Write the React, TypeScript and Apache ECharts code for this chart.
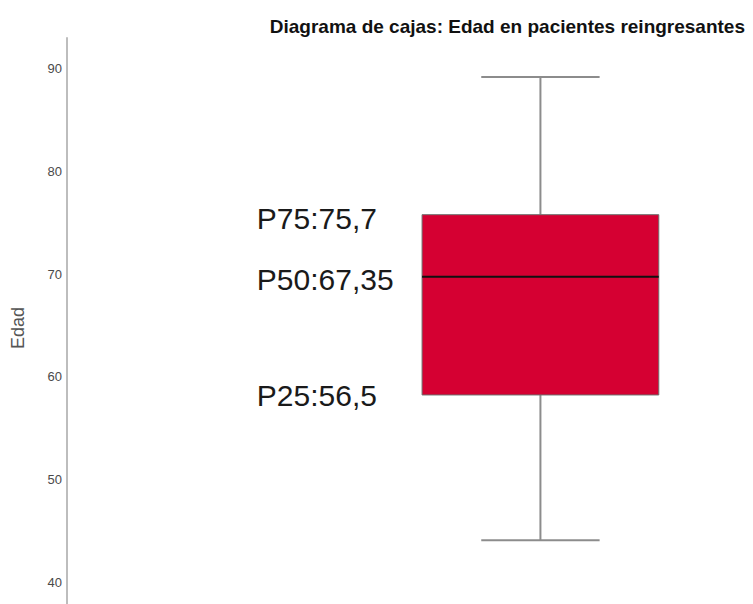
import React, { useEffect, useRef } from "react";
import * as echarts from "echarts";

const categories = ["Edad"];
const whiskerLow = [44.1];
const quartile1 = [58.25];
const medianValues = [69.75];
const quartile3 = [75.8];
const whiskerHigh = [89.2];
const percentileLabels = ["P75:75,7", "P50:67,35", "P25:56,5"];
const yTicks = [40, 50, 60, 70, 80, 90];

const FONT = "'Liberation Sans', Arial, sans-serif";

export default function App() {
  const ref = useRef<HTMLDivElement>(null);
  useEffect(() => {
    if (!ref.current) return;
    const chart = echarts.init(ref.current, null, { renderer: "svg" });
    const data = categories.map((_, i) => [
      0,
      whiskerLow[i],
      quartile1[i],
      medianValues[i],
      quartile3[i],
      whiskerHigh[i],
    ]);
    chart.setOption({
      animation: false,
      backgroundColor: "#ffffff",
      title: {
        text: "Diagrama de cajas: Edad en pacientes reingresantes",
        right: 3,
        top: 12,
        textStyle: { fontFamily: FONT, fontSize: 19, fontWeight: "bold", color: "#111" },
      },
      grid: { left: 67, right: 0, top: 38, bottom: 0 },
      xAxis: { type: "value", min: -1, max: 0.449, show: false },
      yAxis: {
        type: "value",
        min: 37.9,
        max: 93,
        name: categories[0],
        nameLocation: "middle",
        nameGap: 40,
        nameTextStyle: { fontFamily: FONT, fontSize: 18, color: "#555", padding: [0, 14, 0, 0] },
        axisLine: { show: true, onZero: false, lineStyle: { color: "#bdbdbd", width: 2 } },
        axisTick: { show: false },
        splitLine: { show: false },
        axisLabel: {
          customValues: yTicks,
          margin: 5,
          fontFamily: FONT,
          fontSize: 13,
          color: "#4a4a4a",
        },
      },
      series: [
        {
          type: "custom",
          data,
          encode: { x: 0, y: [1, 2, 3, 4, 5] },
          renderItem: (params: any, api: any) => {
            const x = api.value(0);
            const lo = api.coord([x, api.value(1)]);
            const q1 = api.coord([x, api.value(2)]);
            const med = api.coord([x, api.value(3)]);
            const q3 = api.coord([x, api.value(4)]);
            const hi = api.coord([x, api.value(5)]);
            const unit = api.size([1, 0])[0];
            const bw = unit * 0.25;
            const cw = unit * 0.125;
            const cx = lo[0];
            const whisker = { stroke: "#8c8c8c", lineWidth: 2 };
            const labelX = cx - unit * 0.599;
            const textStyle = (t: string, y: number) => ({
              type: "text",
              style: {
                text: t,
                x: labelX,
                y: y,
                align: "left",
                verticalAlign: "middle",
                fontFamily: FONT,
                fontSize: 30,
                fill: "#1a1a1a",
              },
            });
            return {
              type: "group",
              children: [
                { type: "line", shape: { x1: cx, y1: q3[1], x2: cx, y2: hi[1] }, style: whisker },
                { type: "line", shape: { x1: cx, y1: q1[1], x2: cx, y2: lo[1] }, style: whisker },
                { type: "line", shape: { x1: cx - cw, y1: hi[1], x2: cx + cw, y2: hi[1] }, style: whisker },
                { type: "line", shape: { x1: cx - cw, y1: lo[1], x2: cx + cw, y2: lo[1] }, style: whisker },
                {
                  type: "rect",
                  shape: { x: cx - bw, y: q3[1], width: bw * 2, height: q1[1] - q3[1] },
                  style: { fill: "#d50032", stroke: "#6e6e6e", lineWidth: 1 },
                },
                {
                  type: "line",
                  shape: { x1: cx - bw, y1: med[1], x2: cx + bw, y2: med[1] },
                  style: { stroke: "#111", lineWidth: 2 },
                },
                textStyle(percentileLabels[0], q3[1] + 4),
                textStyle(percentileLabels[1], med[1] + 3),
                textStyle(percentileLabels[2], q1[1] + 1),
              ],
            };
          },
        },
      ],
    });
    return () => chart.dispose();
  }, []);
  return (
    <div
      ref={ref}
      style={{ position: "absolute", left: 0, top: 0, width: 753, height: 604 }}
    />
  );
}
